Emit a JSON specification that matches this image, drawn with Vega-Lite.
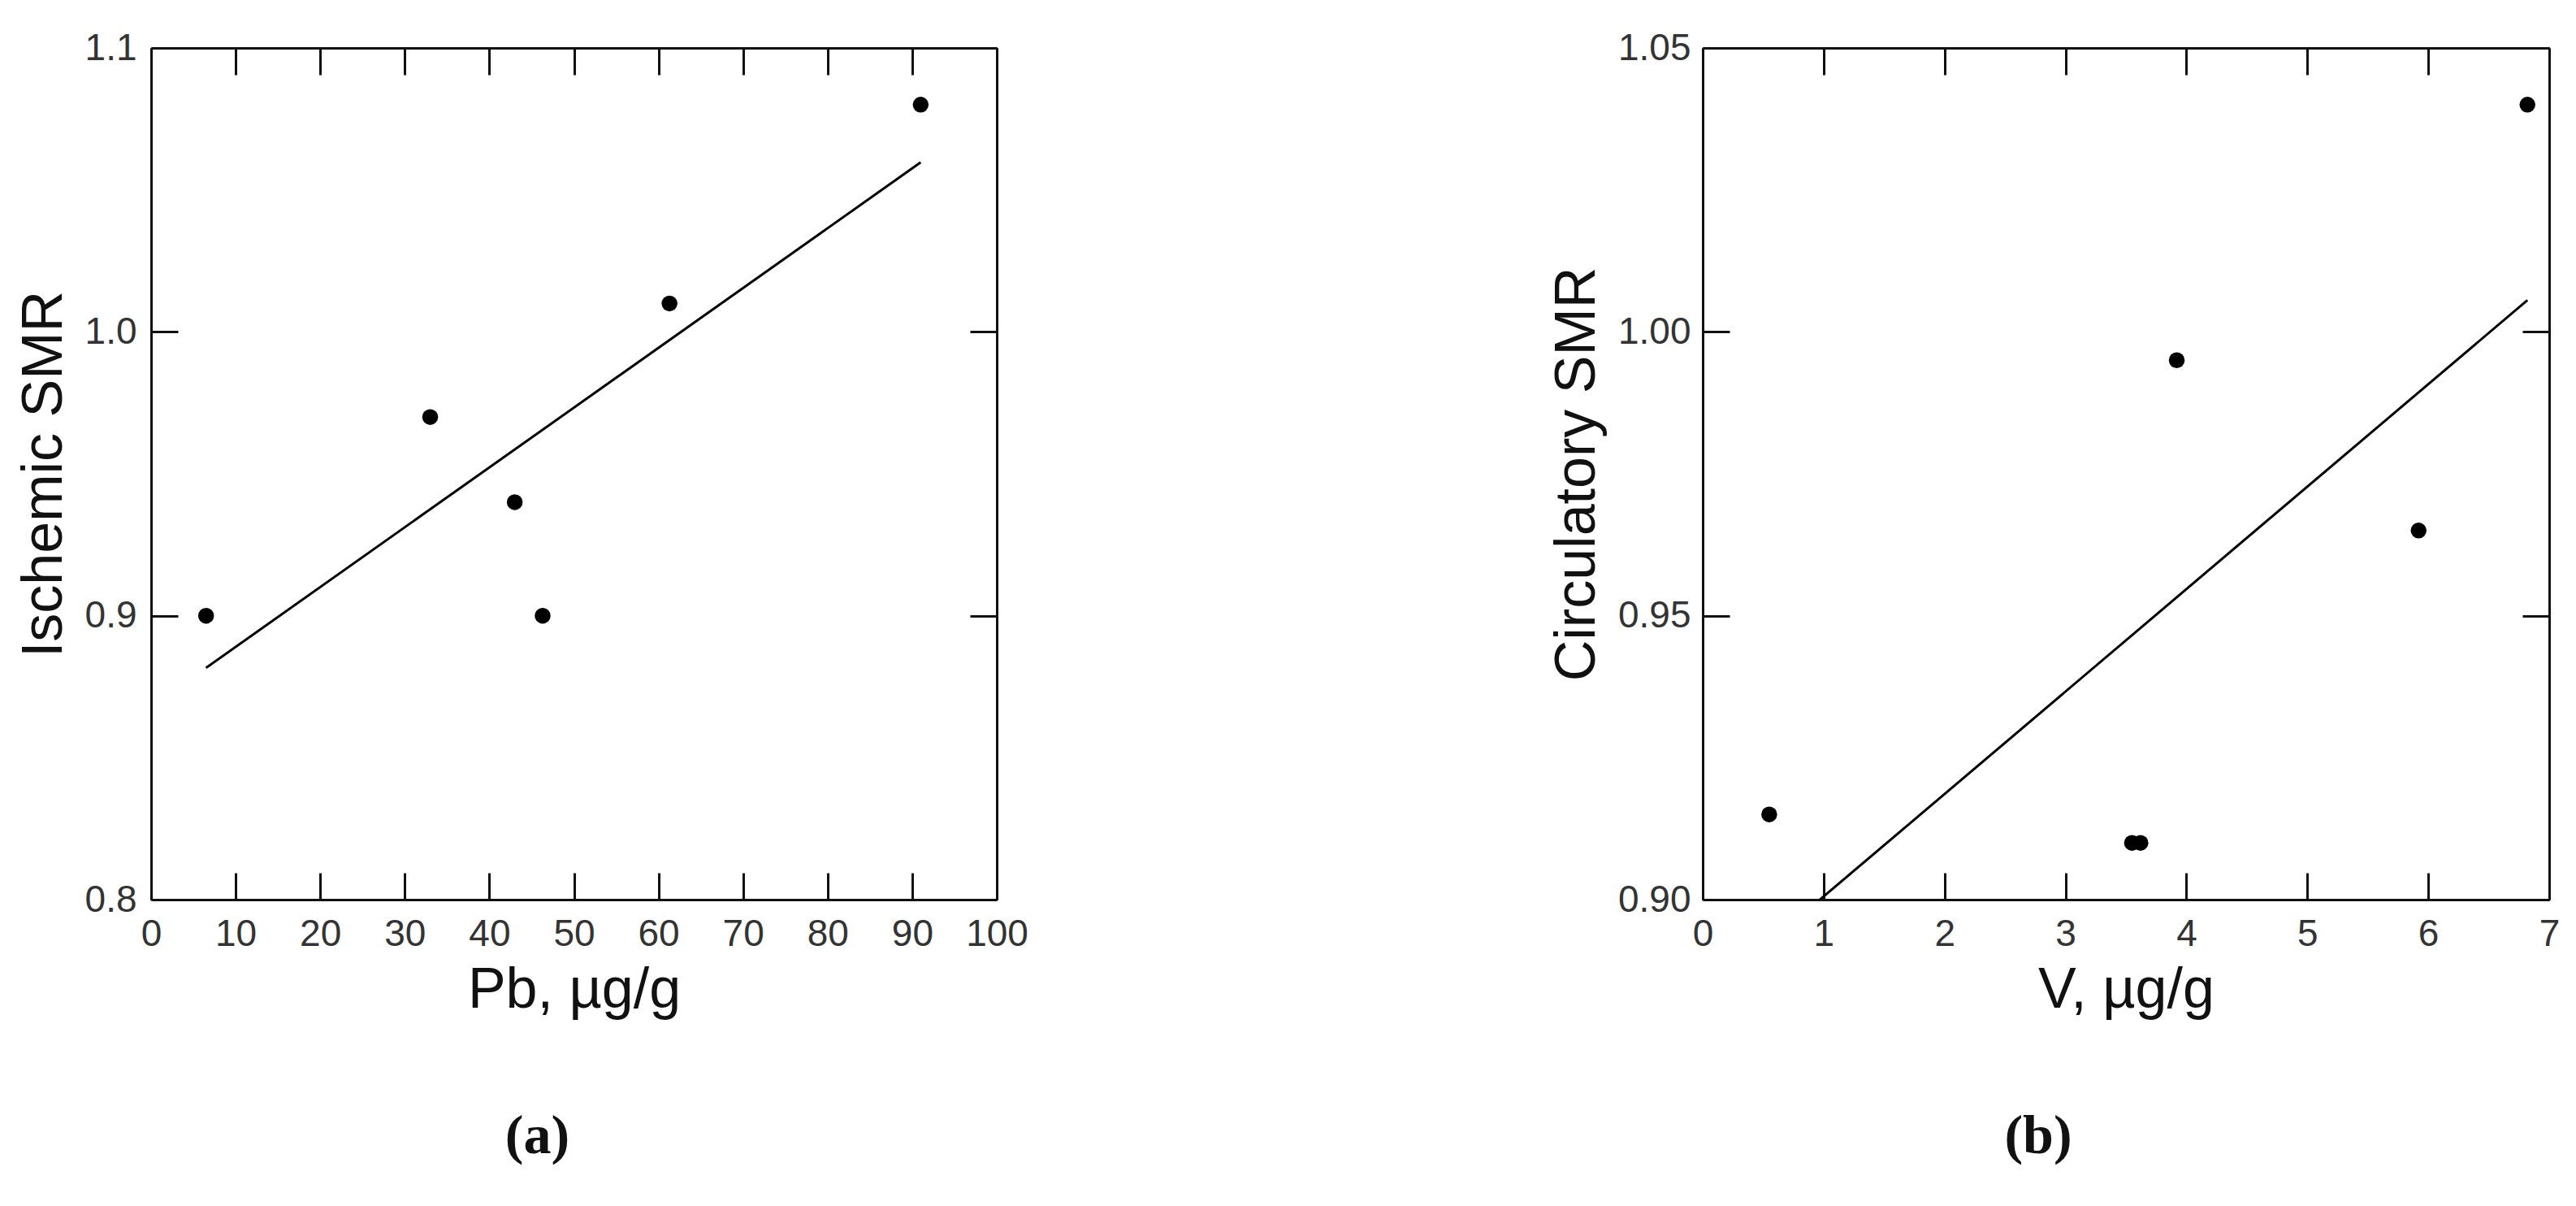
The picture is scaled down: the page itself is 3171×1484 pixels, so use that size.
{
  "$schema": "https://vega.github.io/schema/vega-lite/v6.json",
  "background": "white",
  "padding": {"left": 19, "top": 36, "right": 0, "bottom": 0},
  "spacing": 640,
  "hconcat": [
    {
      "width": 1041,
      "height": 1048,
      "title": {"text": "(a)", "dx": -45},
      "data": {"values": [
        {"pb": 6.5, "smr": 0.90},
        {"pb": 33.0, "smr": 0.97},
        {"pb": 43.0, "smr": 0.94},
        {"pb": 46.3, "smr": 0.90},
        {"pb": 61.3, "smr": 1.01},
        {"pb": 91.0, "smr": 1.08}
      ]},
      "layer": [
        {
          "mark": {"type": "circle", "size": 380, "color": "black", "opacity": 1},
          "encoding": {
            "x": {"field": "pb", "type": "quantitative", "scale": {"domain": [0, 100], "nice": false, "zero": false},
                  "axis": {"orient": "bottom", "values": [0, 10, 20, 30, 40, 50, 60, 70, 80, 90, 100], "title": "Pb, µg/g", "labelPadding": 53, "titlePadding": 12}},
            "y": {"field": "smr", "type": "quantitative", "scale": {"domain": [0.8, 1.1], "nice": false, "zero": false},
                  "axis": {"orient": "left", "values": [0.8, 0.9, 1.0, 1.1], "format": ".1f", "title": "Ischemic SMR", "labelPadding": 51, "titlePadding": 14}}
          }
        },
        {
          "transform": [{"regression": "smr", "on": "pb"}],
          "mark": {"type": "line", "color": "black", "strokeWidth": 3, "clip": true},
          "encoding": {
            "x": {"field": "pb", "type": "quantitative",
                  "axis": {"orient": "top", "values": [0, 10, 20, 30, 40, 50, 60, 70, 80, 90, 100], "labels": false, "title": null}},
            "y": {"field": "smr", "type": "quantitative",
                  "axis": {"orient": "right", "values": [0.8, 0.9, 1.0, 1.1], "labels": false, "title": null}}
          }
        }
      ],
      "resolve": {"axis": {"x": "independent", "y": "independent"}}
    },
    {
      "width": 1042,
      "height": 1048,
      "title": {"text": "(b)", "dx": -108},
      "data": {"values": [
        {"v": 0.55, "smr": 0.915},
        {"v": 3.55, "smr": 0.91},
        {"v": 3.62, "smr": 0.91},
        {"v": 3.92, "smr": 0.995},
        {"v": 5.92, "smr": 0.965},
        {"v": 6.82, "smr": 1.04}
      ]},
      "layer": [
        {
          "mark": {"type": "circle", "size": 380, "color": "black", "opacity": 1},
          "encoding": {
            "x": {"field": "v", "type": "quantitative", "scale": {"domain": [0, 7], "nice": false, "zero": false},
                  "axis": {"orient": "bottom", "values": [0, 1, 2, 3, 4, 5, 6, 7], "title": "V, µg/g", "labelPadding": 53, "titlePadding": 12}},
            "y": {"field": "smr", "type": "quantitative", "scale": {"domain": [0.9, 1.05], "nice": false, "zero": false},
                  "axis": {"orient": "left", "values": [0.9, 0.95, 1.0, 1.05], "format": ".2f", "title": "Circulatory SMR", "labelPadding": 48, "titlePadding": 14}}
          }
        },
        {
          "transform": [{"regression": "smr", "on": "v"}],
          "mark": {"type": "line", "color": "black", "strokeWidth": 3, "clip": true},
          "encoding": {
            "x": {"field": "v", "type": "quantitative",
                  "axis": {"orient": "top", "values": [0, 1, 2, 3, 4, 5, 6, 7], "labels": false, "title": null}},
            "y": {"field": "smr", "type": "quantitative",
                  "axis": {"orient": "right", "values": [0.9, 0.95, 1.0, 1.05], "labels": false, "title": null}}
          }
        }
      ],
      "resolve": {"axis": {"x": "independent", "y": "independent"}}
    }
  ],
  "config": {
    "view": {"stroke": null},
    "axis": {
      "grid": false,
      "tickSize": -33,
      "tickWidth": 3,
      "tickColor": "#111",
      "domainColor": "#111",
      "domainWidth": 3,
      "labelFont": "Liberation Sans",
      "labelFontSize": 46,
      "labelColor": "#333",
      "labelFlush": false,
      "labelOverlap": false,
      "titleFont": "Liberation Sans",
      "titleFontSize": 70,
      "titleFontWeight": "normal",
      "titleColor": "#111"
    },
    "title": {
      "orient": "bottom",
      "anchor": "middle",
      "font": "Liberation Serif",
      "fontSize": 68,
      "fontWeight": "bold",
      "color": "#111",
      "offset": 112
    }
  }
}
